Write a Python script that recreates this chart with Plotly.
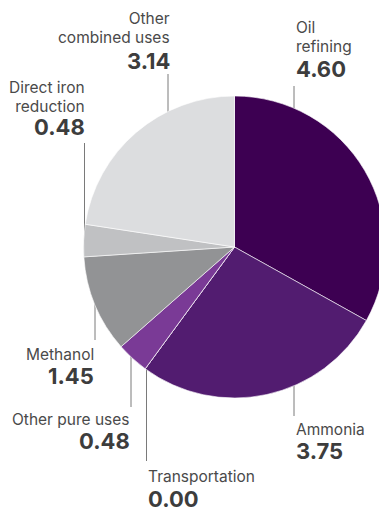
import plotly.graph_objects as go

# ---- data ----
categories = ["Oil refining", "Ammonia", "Transportation", "Other pure uses",
              "Methanol", "Direct iron reduction", "Other combined uses"]
values = [4.60, 3.75, 0.00, 0.48, 1.45, 0.48, 3.14]
colors = ["#3d0052", "#521c70", "#6a2d86", "#7a3a96", "#929395", "#c0c1c3", "#dcdddf"]
label_lines = {
    "Oil refining": ["Oil", "refining"],
    "Ammonia": ["Ammonia"],
    "Transportation": ["Transportation"],
    "Other pure uses": ["Other pure uses"],
    "Methanol": ["Methanol"],
    "Direct iron reduction": ["Direct iron", "reduction"],
    "Other combined uses": ["Other", "combined uses"],
}

# ---- layout (target pixel positions in the 387x513 window) ----
W, H = 387, 513
OFF = 8  # the page body adds an 8px margin; compensate for it
FW, FH = W - OFF, H - OFF
CX, CY, R = 234.5, 247.0, 151.0
# anchor x, side, baseline of last name line, baseline of value, leader (x, y_top, y_bottom)
label_pos = {
    "Oil refining": (295, "left", 53.5, 78.0, (294, 86, 110)),
    "Ammonia": (295, "left", 436.5, 460.0, (294, 385, 416)),
    "Transportation": (146.7, "left", 483.5, 507.5, (146.5, 365, 461)),
    "Other pure uses": (130.5, "right", 426.5, 449.5, (131, 350, 407)),
    "Methanol": (95, "right", 361.5, 385.0, (95, 300, 340)),
    "Direct iron reduction": (86.0, "right", 113.0, 136.0, (84.5, 143, 247)),
    "Other combined uses": (170.7, "right", 44.5, 69.5, (168, 74, 115)),
}

NAME_SIZE = 15.5
LINE_BASE = 14.6  # plotly line spacing is 1.3 x base size -> ~19px between lines
VAL_SIZE = 22
DESC = 0.245
FONT = "Inter, Liberation Sans, Arial, sans-serif"


def px(x):
    return (x - OFF) / FW


def py(y):
    return 1 - (y - OFF) / FH


fig = go.Figure()
fig.add_trace(go.Pie(
    labels=categories,
    values=values,
    sort=False,
    direction="clockwise",
    rotation=0,
    marker=dict(colors=colors, line=dict(color="#ffffff", width=0.6)),
    textinfo="none",
    hoverinfo="label+value",
    showlegend=False,
    domain=dict(x=[px(CX - R), px(CX + R)], y=[py(CY + R), py(CY - R)]),
))

annotations = []
shapes = []
for cat, val in zip(categories, values):
    ax, side, name_bl, val_bl, leader = label_pos[cat]
    name_text = "<br>".join(
        f"<span style='font-size:{NAME_SIZE}px'>{t}</span>" for t in label_lines[cat]
    )
    annotations.append(dict(
        x=px(ax), y=py(name_bl + DESC * NAME_SIZE), xref="paper", yref="paper",
        text=name_text, showarrow=False, xanchor=side, yanchor="bottom",
        align=side, borderpad=0,
        font=dict(family=FONT, size=LINE_BASE, color="#4a4a4a"),
    ))
    annotations.append(dict(
        x=px(ax), y=py(val_bl + DESC * VAL_SIZE), xref="paper", yref="paper",
        text=f"<b>{val:.2f}</b>", showarrow=False, xanchor=side, yanchor="bottom",
        borderpad=0, font=dict(family=FONT, size=VAL_SIZE, color="#3d3d3d"),
    ))
    lx, y0, y1 = leader
    shapes.append(dict(
        type="line", xref="paper", yref="paper", layer="below",
        x0=px(lx), x1=px(lx), y0=py(y0), y1=py(y1),
        line=dict(color="#7a7a7a", width=1),
    ))

fig.update_layout(
    width=FW, height=FH,
    margin=dict(l=0, r=0, t=0, b=0),
    paper_bgcolor="#ffffff",
    plot_bgcolor="#ffffff",
    annotations=annotations,
    shapes=shapes,
)

fig.write_html("out.html")
